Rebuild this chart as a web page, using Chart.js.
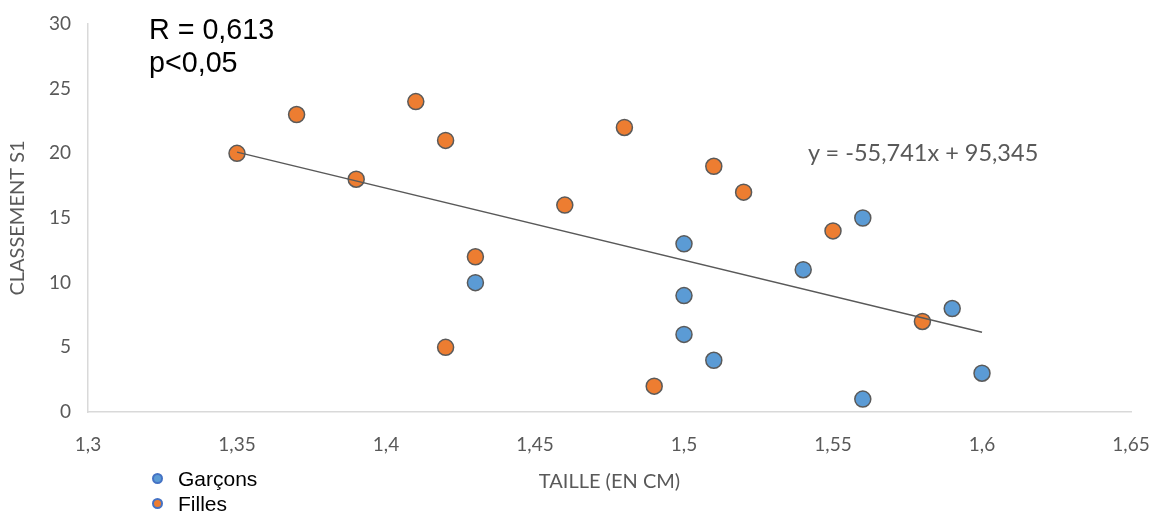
<!DOCTYPE html>
<html>
<head>
<meta charset="utf-8">
<script src="https://cdn.jsdelivr.net/npm/chart.js@4.4.0/dist/chart.umd.min.js"></script>
<style>
  html, body { margin: 0; padding: 0; background: #fff; }
  #wrap { position: relative; width: 1158px; height: 514px; }
  canvas { position: absolute; left: 0; top: 0; }
  .note { position: absolute; font-family: "Liberation Sans", Arial, sans-serif; color: #000; white-space: nowrap; line-height: 1; }
  .eq { position: absolute; font-family: Lato, "Open Sans", sans-serif; color: #595959; white-space: nowrap; line-height: 1; }
  .legend { position: absolute; left: 152px; top: 466px; font-family: "Liberation Sans", Arial, sans-serif; font-size: 21px; color: #000; }
  .legend div { height: 25px; line-height: 25px; display: flex; align-items: center; }
  .legend span.m { display: inline-block; width: 7px; height: 7px; border-radius: 50%; border: 2px solid #4472C4; margin-right: 15px; }
</style>
</head>
<body>
<div id="wrap">
  <canvas id="c" width="1158" height="514"></canvas>
  <div class="note" style="left:149px; top:15px; font-size:28.7px;">R = 0,613</div>
  <div class="note" style="left:149px; top:48px; font-size:28.7px;">p&lt;0,05</div>
  <div class="eq" style="left:808px; top:141px; font-size:23.5px;">y = -55,741x + 95,345</div>
  <div class="legend">
    <div><span class="m" style="background:#5B9BD5"></span>Garçons</div>
    <div><span class="m" style="background:#ED7D31"></span>Filles</div>
  </div>
</div>
<script>
// Data
const garconsTaille = [1.43, 1.50, 1.50, 1.50, 1.51, 1.54, 1.56, 1.56, 1.59, 1.60];
const garconsClassement = [10, 13, 9, 6, 4, 11, 15, 1, 8, 3];
const fillesTaille = [1.35, 1.37, 1.39, 1.41, 1.42, 1.42, 1.43, 1.46, 1.48, 1.49, 1.51, 1.52, 1.55, 1.58];
const fillesClassement = [20, 23, 18, 24, 21, 5, 12, 16, 22, 2, 19, 17, 14, 7];
const trendSlope = -55.741;
const trendIntercept = 95.345;
const seriesNames = ["Garçons", "Filles"];
const xAxisTitle = "TAILLE (EN CM)";
const yAxisTitle = "CLASSEMENT S1";

const toPts = (xs, ys) => xs.map((x, i) => ({ x, y: ys[i] }));
const allX = garconsTaille.concat(fillesTaille);
const xMin = Math.min(...allX), xMax = Math.max(...allX);
const trendPts = [xMin, xMax].map(x => ({ x, y: trendSlope * x + trendIntercept }));

const tickFont = { family: "Lato, 'Open Sans', sans-serif", size: 19 };
const titleFont = { family: "Lato, 'Open Sans', sans-serif", size: 20 };

new Chart(document.getElementById('c'), {
  type: 'scatter',
  data: {
    datasets: [
      { label: seriesNames[0], data: toPts(garconsTaille, garconsClassement), backgroundColor: '#5B9BD5', borderColor: '#5a5a5a', borderWidth: 1.5, pointRadius: 8, pointHoverRadius: 8, order: 1 },
      { label: seriesNames[1], data: toPts(fillesTaille, fillesClassement), backgroundColor: '#ED7D31', borderColor: '#5a5a5a', borderWidth: 1.5, pointRadius: 8, pointHoverRadius: 8, order: 1 },
      { type: 'line', label: 'trend', data: trendPts, borderColor: '#595959', borderWidth: 1.5, pointRadius: 0, fill: false, order: 0 }
    ]
  },
  options: {
    responsive: false,
    animation: false,
    devicePixelRatio: 1,
    layout: { padding: { top: 24, right: 27, bottom: 0, left: 0 } },
    plugins: { legend: { display: false }, tooltip: { enabled: false } },
    scales: {
      x: {
        type: 'linear', min: 1.3, max: 1.65,
        ticks: { stepSize: 0.05, color: '#595959', font: tickFont, padding: 13, maxRotation: 0,
          callback: v => String(Math.round(v * 100) / 100).replace('.', ',') },
        grid: { display: false },
        border: { display: true, color: '#d9d9d9', width: 1.5 },
        title: { display: true, text: xAxisTitle, color: '#595959', font: titleFont, padding: { top: 0, bottom: 20 } },
        afterFit: s => { s.height = 102; s.paddingRight = 0; s.paddingLeft = 0; }
      },
      y: {
        min: 0, max: 30,
        ticks: { stepSize: 5, color: '#595959', font: tickFont, padding: 9 },
        grid: { display: false },
        border: { display: true, color: '#d9d9d9', width: 1.5 },
        title: { display: true, text: yAxisTitle, color: '#595959', font: titleFont, padding: { top: 6, bottom: 0 } },
        afterFit: s => { s.width = 88; }
      }
    }
  }
});
</script>
</body>
</html>
